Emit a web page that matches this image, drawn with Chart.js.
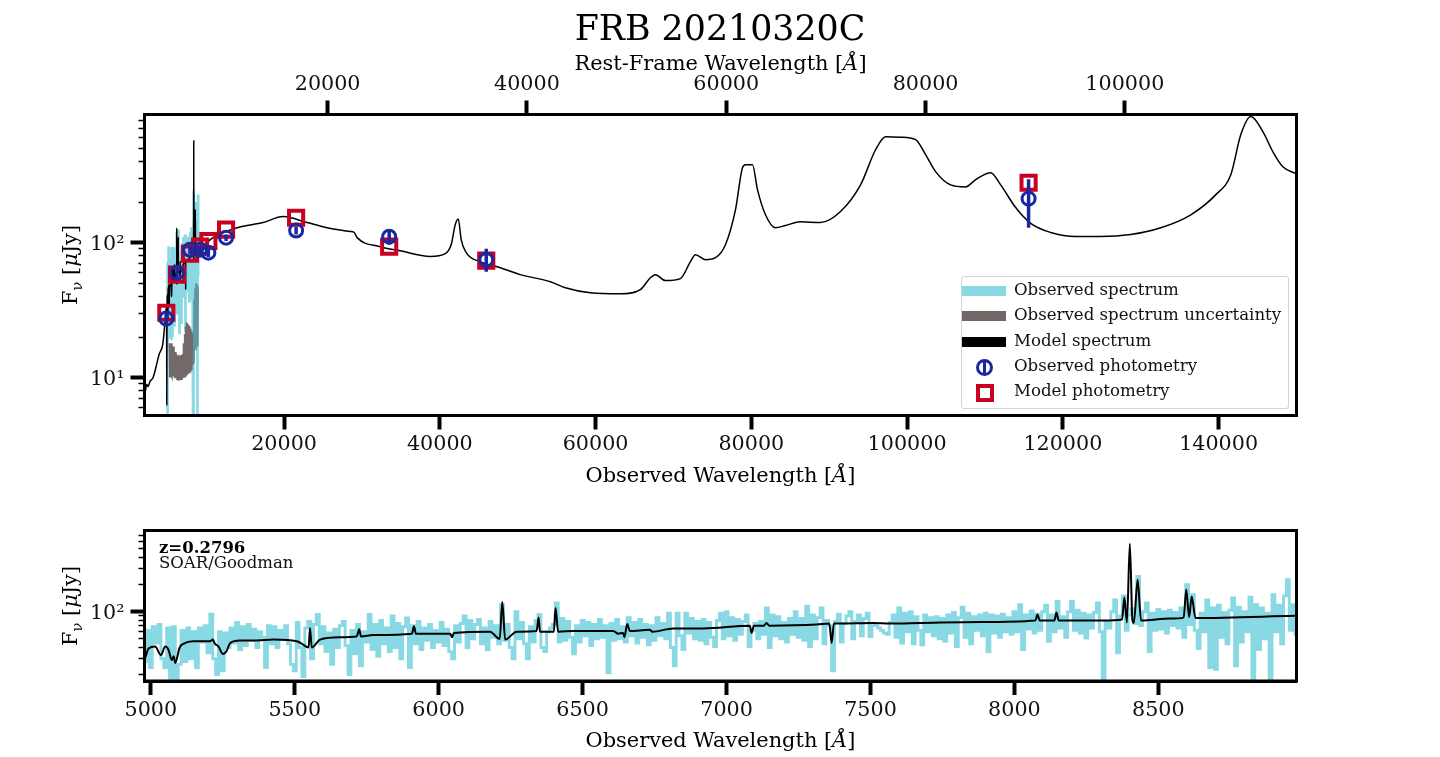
<!DOCTYPE html>
<html>
<head>
<meta charset="utf-8">
<title>FRB 20210320C</title>
<script src="https://cdn.jsdelivr.net/npm/chart.js@4/dist/chart.umd.js"></script>
<style>
    html, body { margin: 0; padding: 0; background: #fff; }
    body { width: 1440px; height: 757px; position: relative; overflow: hidden; font-family: "DejaVu Serif", serif; color: #000; }
    canvas { position: absolute; left: 0; }
    .label { position: absolute; white-space: nowrap; transform: translate(-50%, -50%); line-height: 1; }
    .label.vertical { transform: translate(-50%, -50%) rotate(-90deg); }
    .label sub { font-size: 70%; line-height: 0; }
    #legend { position: absolute; left: 961px; top: 276px; width: 326px; height: 131px; border: 1px solid #d4d4d4; border-radius: 3px; background: rgba(255, 255, 255, 0.85); font-size: 16.6px; color: #111; }
    #legend .row { position: absolute; left: 0; height: 20px; line-height: 20px; white-space: nowrap; }
    #legend .name { position: absolute; left: 52px; top: -1px; }
    #legend .swatch { position: absolute; left: 0; top: 5px; width: 44px; height: 10px; }
    #legend .circle { position: absolute; left: 14px; top: 2px; width: 11px; height: 11px; border: 3px solid #1a27a3; border-radius: 50%; }
    #legend .circle i { position: absolute; left: 4px; top: -2px; width: 3px; height: 15px; background: #1a27a3; }
    #legend .square { position: absolute; left: 14px; top: 2px; width: 10px; height: 10px; border: 4px solid #c80021; }
</style>
</head>
<body>
<canvas id="sedChart" width="1440" height="500" style="top:0;width:1440px;height:500px"></canvas>
<canvas id="specChart" width="1440" height="257" style="top:500px;width:1440px;height:257px"></canvas>

<div class="label" style="left:720px;top:28px;font-size:34.8px">FRB 20210320C</div>
<div class="label" style="left:720.5px;top:63px;font-size:20.9px">Rest-Frame Wavelength [<i>Å</i>]</div>
<div class="label" style="left:720.5px;top:475px;font-size:20.9px">Observed Wavelength [<i>Å</i>]</div>
<div class="label" style="left:720.5px;top:740px;font-size:20.9px">Observed Wavelength [<i>Å</i>]</div>
<div class="label vertical" style="left:70px;top:265px;font-size:20.9px">F<sub>ν</sub> [<i>μ</i>Jy]</div>
<div class="label vertical" style="left:70px;top:606px;font-size:20.9px">F<sub>ν</sub> [<i>μ</i>Jy]</div>
<div class="label" style="left:159px;top:548px;font-size:16.5px;font-weight:bold;transform:translate(0,-50%)">z=0.2796</div>
<div class="label" style="left:159px;top:563px;font-size:16.5px;transform:translate(0,-50%);color:#111">SOAR/Goodman</div>
<div id="legend"></div>

<script>
const redshift = 1.2796

// axis limits and ticks
const sedWaveMin = 2077
const sedWaveMax = 150000
const sedFluxMin = 5.25
const sedFluxMax = 890
const specWaveMin = 4978
const specWaveMax = 8980
const specFluxMin = 17
const specFluxMax = 798
const sedWaveTicks = [20000, 40000, 60000, 80000, 100000, 120000, 140000]
const restWaveTicks = [20000, 40000, 60000, 80000, 100000]
const specWaveTicks = [5000, 5500, 6000, 6500, 7000, 7500, 8000, 8500]
const sedFluxTicks = [10, 100]
const sedFluxMinorTicks = [6, 7, 8, 9, 20, 30, 40, 50, 60, 70, 80, 90, 200, 300, 400, 500, 600, 700, 800]
const specFluxTicks = [100]
const specFluxMinorTicks = [20, 30, 40, 50, 60, 70, 80, 90, 200, 300, 400, 500, 600, 700]
const fluxTickLabels = {10: '10¹', 100: '10²'}

// observed spectrum
const obsWave = [
    4980, 4990, 5000, 5010, 5020, 5030, 5040, 5050, 5060, 5070,
    5080, 5090, 5100, 5110, 5120, 5130, 5140, 5150, 5160, 5170,
    5180, 5190, 5200, 5210, 5220, 5230, 5240, 5250, 5260, 5270,
    5280, 5290, 5300, 5310, 5320, 5330, 5340, 5350, 5360, 5370,
    5380, 5390, 5400, 5410, 5420, 5430, 5440, 5450, 5460, 5470,
    5480, 5490, 5500, 5510, 5520, 5530, 5540, 5550, 5560, 5570,
    5580, 5590, 5600, 5610, 5620, 5630, 5640, 5650, 5660, 5670,
    5680, 5690, 5700, 5710, 5720, 5730, 5740, 5750, 5760, 5770,
    5780, 5790, 5800, 5810, 5820, 5830, 5840, 5850, 5860, 5870,
    5880, 5890, 5900, 5910, 5920, 5930, 5940, 5950, 5960, 5970,
    5980, 5990, 6000, 6010, 6020, 6030, 6040, 6050, 6060, 6070,
    6080, 6090, 6100, 6110, 6120, 6130, 6140, 6150, 6160, 6170,
    6180, 6190, 6200, 6210, 6220, 6230, 6240, 6250, 6260, 6270,
    6280, 6290, 6300, 6310, 6320, 6330, 6340, 6350, 6360, 6370,
    6380, 6390, 6400, 6410, 6420, 6430, 6440, 6450, 6460, 6470,
    6480, 6490, 6500, 6510, 6520, 6530, 6540, 6550, 6560, 6570,
    6580, 6590, 6600, 6610, 6620, 6630, 6640, 6650, 6660, 6670,
    6680, 6690, 6700, 6710, 6720, 6730, 6740, 6750, 6760, 6770,
    6780, 6790, 6800, 6810, 6820, 6830, 6840, 6850, 6860, 6870,
    6880, 6890, 6900, 6910, 6920, 6930, 6940, 6950, 6960, 6970,
    6980, 6990, 7000, 7010, 7020, 7030, 7040, 7050, 7060, 7070,
    7080, 7090, 7100, 7110, 7120, 7130, 7140, 7150, 7160, 7170,
    7180, 7190, 7200, 7210, 7220, 7230, 7240, 7250, 7260, 7270,
    7280, 7290, 7300, 7310, 7320, 7330, 7340, 7350, 7360, 7370,
    7380, 7390, 7400, 7410, 7420, 7430, 7440, 7450, 7460, 7470,
    7480, 7490, 7500, 7510, 7520, 7530, 7540, 7550, 7560, 7570,
    7580, 7590, 7600, 7610, 7620, 7630, 7640, 7650, 7660, 7670,
    7680, 7690, 7700, 7710, 7720, 7730, 7740, 7750, 7760, 7770,
    7780, 7790, 7800, 7810, 7820, 7830, 7840, 7850, 7860, 7870,
    7880, 7890, 7900, 7910, 7920, 7930, 7940, 7950, 7960, 7970,
    7980, 7990, 8000, 8010, 8020, 8030, 8040, 8050, 8060, 8070,
    8080, 8090, 8100, 8110, 8120, 8130, 8140, 8150, 8160, 8170,
    8180, 8190, 8200, 8210, 8220, 8230, 8240, 8250, 8260, 8270,
    8280, 8290, 8300, 8310, 8320, 8330, 8340, 8350, 8360, 8370,
    8380, 8390, 8400, 8410, 8420, 8430, 8440, 8450, 8460, 8470,
    8480, 8490, 8500, 8510, 8520, 8530, 8540, 8550, 8560, 8570,
    8580, 8590, 8600, 8610, 8620, 8630, 8640, 8650, 8660, 8670,
    8680, 8690, 8700, 8710, 8720, 8730, 8740, 8750, 8760, 8770,
    8780, 8790, 8800, 8810, 8820, 8830, 8840, 8850, 8860, 8870,
    8880, 8890, 8900, 8910, 8920, 8930, 8940, 8950, 8960, 8970,
    8980
]
const obsFlux = [
    28, 62, 24, 68, 45, 72, 30, 24, 66, 5,
    68, 18, 26, 62, 28, 66, 30, 60, 24, 66,
    46, 70, 35, 94, 30, 20, 60, 22, 58, 40,
    66, 45, 76, 38, 68, 42, 72, 48, 64, 40,
    60, 52, 24, 70, 44, 68, 40, 62, 50, 70,
    44, 26, 22, 76, 40, 19, 66, 78, 30, 72,
    93, 44, 68, 36, 58, 26, 64, 40, 70, 78,
    42, 20, 62, 34, 72, 25, 60, 46, 93, 38,
    72, 32, 80, 44, 66, 36, 90, 40, 74, 30,
    68, 85, 24, 70, 44, 78, 38, 66, 48, 72,
    40, 62, 46, 76, 42, 64, 36, 30, 70, 46,
    74, 90, 40, 80, 50, 72, 82, 44, 66, 38,
    78, 52, 70, 44, 120, 48, 72, 40, 30, 100,
    50, 76, 44, 30, 68, 46, 80, 93, 40, 36,
    60, 66, 72, 125, 46, 84, 48, 78, 52, 34,
    70, 46, 80, 54, 76, 42, 72, 50, 82, 52,
    70, 21, 74, 48, 82, 50, 68, 46, 86, 54,
    76, 45, 82, 52, 72, 43, 70, 48, 86, 54,
    74, 50, 96, 40, 25, 96, 54, 38, 96, 58,
    84, 50, 78, 48, 82, 44, 76, 52, 41, 80,
    96, 50, 100, 54, 86, 48, 82, 56, 78, 92,
    41, 62, 74, 50, 78, 56, 110, 40, 92, 54,
    88, 50, 76, 46, 84, 56, 100, 52, 84, 48,
    115, 41, 92, 50, 86, 110, 44, 80, 70, 22,
    78, 94, 46, 74, 90, 100, 50, 78, 92, 54,
    84, 96, 53, 74, 70, 66, 62, 58, 56, 76,
    92, 52, 110, 45, 96, 60, 100, 44, 88, 62,
    43, 92, 60, 86, 54, 88, 50, 84, 47, 92,
    58, 98, 41, 86, 112, 52, 96, 44, 88, 62,
    92, 54, 96, 36, 92, 58, 90, 52, 94, 60,
    86, 56, 100, 60, 120, 38, 92, 64, 102, 58,
    94, 62, 100, 118, 47, 92, 60, 130, 66, 88,
    52, 100, 130, 62, 104, 58, 96, 51, 92, 66,
    98, 125, 60, 5, 78, 66, 100, 135, 35, 90,
    150, 62, 92, 108, 74, 247, 70, 100, 125, 36,
    96, 62, 106, 64, 100, 58, 104, 70, 98, 66,
    110, 52, 200, 72, 155, 62, 39, 96, 60, 135,
    24, 110, 23, 118, 52, 98, 44, 104, 142, 25,
    112, 46, 100, 60, 145, 5, 120, 38, 110, 50,
    96, 5, 155, 60, 118, 44, 150, 227, 62, 120,
    56
]

// uncertainty on the observed spectrum
const errWave = [
    5300, 5354, 5420, 5480, 5540, 5600, 5660, 5720, 5780, 5840,
    5900, 5960, 6020, 6080, 6140, 6210, 6270, 6330, 6390, 6450,
    6510, 6570, 6640, 6700, 6760, 6820, 6880, 6940, 7024, 7080,
    7140, 7200, 7260, 7320, 7380, 7440, 7497, 7560, 7620, 7680,
    7740, 7800, 7860, 7923, 7990, 8050, 8110, 8170, 8230, 8290,
    8350, 8410, 8470, 8530, 8590, 8650, 8710, 8780, 8840, 8900, 8950
]
const errFlux = [
    18, 10.2, 17, 10.5, 18, 10.2, 17, 10.3, 17, 10.2,
    15, 10, 15.5, 9.9, 15, 15, 9.8, 14.6, 9.7, 14.5,
    9.7, 14.4, 14.3, 9.7, 14.6, 9.8, 14.8, 9.9, 15, 10,
    18, 10.2, 21, 10.4, 24, 10.6, 25.6, 10.8, 25, 11,
    24.5, 11, 24, 11.2, 23, 11.6, 22, 12, 21, 12.5,
    19, 13, 38, 16, 46, 16, 50, 17, 48, 17, 45
]

// model spectrum: blue end, the part shared with the lower panel, red end
const modelWaveBlue = [2077, 2141, 2360, 2527, 2784, 3169, 3555, 3940, 4416, 4583, 4840, 4920, 4935, 4960]
const modelFluxBlue = [7.6, 7.7, 8.9, 8.6, 9.4, 10, 12, 14.8, 17.6, 21.5, 32, 33, 6.3, 30]
const modelWave = [
    4981, 4992, 5015, 5035, 5050, 5061, 5073, 5079, 5085, 5100,
    5113, 5148, 5206, 5215, 5223, 5235, 5250, 5262, 5276, 5310,
    5368, 5426, 5507, 5525, 5548, 5553, 5559, 5588, 5657, 5715,
    5724, 5730, 5773, 5907, 5914, 5921, 6040, 6046, 6053, 6178,
    6212, 6221, 6231, 6271, 6340, 6347, 6352, 6400, 6406, 6415,
    6468, 6606, 6624, 6641, 6645, 6655, 6664, 6733, 6742, 6815,
    6919, 7081, 7087, 7095, 7130, 7139, 7148, 7313, 7357, 7365,
    7373, 7394, 7507, 7568, 7673, 7882, 8073, 8080, 8088, 8139,
    8146, 8154, 8310, 8374, 8382, 8391, 8401, 8410, 8415, 8428,
    8440, 8542, 8588, 8597, 8607, 8616, 8629, 8976
]
const modelFlux = [
    31, 39, 41, 33, 41, 38, 29, 32, 27, 40,
    44, 47, 47, 49, 44, 41, 34, 36, 45, 48,
    48, 49, 47, 44, 40, 66, 40, 49, 52, 53,
    64, 53, 55, 57, 69, 57, 57, 52, 58, 60,
    50, 128, 49, 60, 61, 86, 60, 60, 110, 60,
    61, 61, 57, 58, 52, 73, 61, 63, 60, 65,
    65, 70, 58, 70, 70, 75, 70, 72, 74, 45,
    74, 74, 75, 74, 75, 77, 80, 93, 80, 80,
    98, 80, 80, 82, 144, 76, 570, 80, 75, 227,
    80, 84, 86, 176, 87, 148, 85, 90
]
const modelWaveRed = [
    9594, 10879, 13963, 17304, 19874, 22958, 25528, 28485, 29000, 29383,
    32339, 34909, 38764, 40692, 41463, 41977, 42363, 42749, 43391, 45190,
    47760, 50330, 54185, 56113, 59326, 63181, 65751, 67036, 67679, 68964,
    70891, 72176, 72819, 74104, 75389, 76674, 77959, 78858, 79244, 80143,
    80786, 81814, 83099, 84384, 86311, 88881, 91451, 94021, 95949, 97234,
    99161, 101089, 102374, 103659, 105586, 107514, 108799, 110726, 112011, 113939,
    115867, 118437, 121650, 124862, 128717, 132572, 136427, 139640, 141567, 142852,
    144137, 145679, 146964, 148249, 150000
]
const modelFluxRed = [
    95, 109, 129, 141, 156, 141, 129, 121, 119, 109,
    93.4, 87, 79, 83, 97, 136, 150, 105, 84.3, 72.3,
    65.3, 58, 51.4, 46.4, 42.6, 41.9, 45, 55, 58, 52.4,
    54.2, 72.3, 81.5, 74.8, 77.4, 96.6, 175, 359, 378, 378,
    247, 161, 129, 134, 143, 141, 170, 268, 488, 610,
    605, 580, 449, 336, 268, 259, 293, 330, 268, 182,
    139, 119, 111, 111, 115, 129, 161, 227, 319, 632,
    859, 664, 472, 365, 324
]

// photometry
const photWave = [4880, 6253, 7924, 9209, 10280, 12550, 21545, 33495, 45960, 115600]
const obsPhotFlux = [27.4, 60, 88.7, 88.7, 84.3, 109, 123, 110.8, 74.8, 212]
const obsPhotLow = [25, 55, 82, 82, 78, 103, 115, 96.6, 61, 129]
const obsPhotHigh = [30, 65, 95, 95, 91, 115, 131, 126, 90, 295]
const modelPhotFlux = [30.3, 58, 82.9, 93.4, 103, 125, 153, 93.4, 73.6, 278]

// legend
const legendNames = ['Observed spectrum', 'Observed spectrum uncertainty', 'Model spectrum', 'Observed photometry', 'Model photometry']
const legendKinds = ['#88d9e3', '#6f6867', '#000000', 'circle', 'square']
const legendTops = [4, 29, 55, 80, 105]

const SERIF = '"DejaVu Serif", serif'
const OBS_COLOR = '#88d9e3'
const ERR_COLOR = 'rgb(113, 106, 105)'
const ERR_OVERLAP_COLOR = 'rgb(94, 150, 162)'
const ERR_OVERLAP_START = 8400
const BLUE = '#1a27a3'
const RED = '#c80021'

function toPoints(xs, ys) {
    return xs.map((x, i) => ({x: x, y: ys[i]}))
}

// error bars are one line with a gap after every point
function errorBarPoints() {
    const points = []
    photWave.forEach((wave, i) => {
        points.push({x: wave, y: obsPhotLow[i]}, {x: wave, y: obsPhotHigh[i]}, {x: wave, y: null})
    })
    return points
}

function setTicks(values) {
    return (scale) => {
        scale.ticks = values.map((value) => ({value: value}))
    }
}

function xAxis({min, max, ticks, position, fixedHeight}) {
    return {
        type: 'linear',
        axis: 'x',
        position: position,
        min: min,
        max: max,
        afterBuildTicks: setTicks(ticks),
        afterFit: (scale) => {
            scale.height = fixedHeight
        },
        border: {display: true, color: '#000', width: 3},
        grid: {drawOnChartArea: false, drawTicks: true, tickLength: 14, tickWidth: 4, tickColor: '#000'},
        ticks: {
            autoSkip: false,
            maxRotation: 0,
            minRotation: 0,
            padding: 3,
            color: '#111',
            font: {family: SERIF, size: 20.7},
            callback: (value) => String(value)
        }
    }
}

function yAxes({min, max, ticks, minorTicks}) {
    return {
        y: {
            type: 'logarithmic',
            position: 'left',
            weight: 1,
            min: min,
            max: max,
            afterBuildTicks: setTicks(ticks),
            afterFit: (scale) => {
                scale.width = 144.5
            },
            border: {display: true, color: '#000', width: 3},
            grid: {drawOnChartArea: false, drawTicks: true, tickLength: 14, tickWidth: 4, tickColor: '#000'},
            ticks: {
                autoSkip: false,
                padding: 6,
                labelOffset: 1.5,
                color: '#111',
                font: {family: SERIF, size: 20.7},
                callback: (value) => fluxTickLabels[value]
            }
        },
        yMinor: {
            type: 'logarithmic',
            axis: 'y',
            position: 'left',
            weight: 0,
            min: min,
            max: max,
            afterBuildTicks: setTicks(minorTicks),
            afterFit: (scale) => {
                scale.width = 0
            },
            border: {display: false},
            grid: {drawOnChartArea: false, drawTicks: true, tickLength: 6, tickWidth: 1.5, tickColor: '#000'},
            ticks: {display: false, autoSkip: false}
        }
    }
}

const framePlugin = {
    id: 'frame',
    afterDraw(chart) {
        const {ctx, chartArea} = chart
        ctx.save()
        ctx.strokeStyle = '#000'
        ctx.lineWidth = 3
        ctx.strokeRect(chartArea.left, chartArea.top, chartArea.right - chartArea.left, chartArea.bottom - chartArea.top)
        ctx.restore()
    }
}

function baseOptions(padding) {
    return {
        responsive: false,
        animation: false,
        devicePixelRatio: 1,
        layout: {padding: padding},
        elements: {point: {radius: 0}, line: {tension: 0}},
        plugins: {legend: {display: false}, title: {display: false}, tooltip: {enabled: false}}
    }
}

new Chart(document.getElementById('sedChart'), {
    type: 'line',
    data: {
        datasets: [
            {
                label: 'Observed photometry',
                data: toPoints(photWave, obsPhotFlux),
                showLine: false,
                pointStyle: 'circle',
                pointRadius: 6.5,
                pointBorderWidth: 3,
                pointBorderColor: BLUE,
                pointBackgroundColor: 'transparent',
                order: 0
            },
            {
                label: 'Observed photometry error',
                data: errorBarPoints(),
                borderColor: BLUE,
                borderWidth: 3.5,
                spanGaps: false,
                order: 0
            },
            {
                label: 'Model photometry',
                data: toPoints(photWave, modelPhotFlux),
                showLine: false,
                pointStyle: 'rect',
                pointRadius: 10,
                pointBorderWidth: 4,
                pointBorderColor: RED,
                pointBackgroundColor: 'transparent',
                order: 1
            },
            {
                label: 'Model spectrum',
                data: toPoints([...modelWaveBlue, ...modelWave, ...modelWaveRed], [...modelFluxBlue, ...modelFlux, ...modelFluxRed]),
                borderColor: '#000',
                borderWidth: 1.5,
                cubicInterpolationMode: 'monotone',
                order: 2
            },
            {
                label: 'Observed spectrum uncertainty',
                data: toPoints(errWave, errFlux),
                borderColor: ERR_COLOR,
                borderWidth: 2,
                segment: {
                    borderColor: (ctx) => ctx.p0.parsed.x > ERR_OVERLAP_START ? ERR_OVERLAP_COLOR : ERR_COLOR
                },
                order: 3
            },
            {
                label: 'Observed spectrum',
                data: toPoints(obsWave, obsFlux),
                borderColor: OBS_COLOR,
                borderWidth: 2.6,
                order: 4
            }
        ]
    },
    options: {
        ...baseOptions({left: 0, right: 143.5, top: 0, bottom: 0}),
        scales: {
            x: xAxis({min: sedWaveMin, max: sedWaveMax, ticks: sedWaveTicks, position: 'bottom', fixedHeight: 84.5}),
            x2: xAxis({min: sedWaveMin / redshift, max: sedWaveMax / redshift, ticks: restWaveTicks, position: 'top', fixedHeight: 114.5}),
            ...yAxes({min: sedFluxMin, max: sedFluxMax, ticks: sedFluxTicks, minorTicks: sedFluxMinorTicks})
        }
    },
    plugins: [framePlugin]
})

new Chart(document.getElementById('specChart'), {
    type: 'line',
    data: {
        datasets: [
            {
                label: 'Model spectrum',
                data: toPoints(modelWave, modelFlux),
                borderColor: '#000',
                borderWidth: 2,
                cubicInterpolationMode: 'monotone',
                order: 0
            },
            {
                label: 'Observed spectrum',
                data: toPoints(obsWave, obsFlux),
                borderColor: OBS_COLOR,
                borderWidth: 2.9,
                stepped: 'middle',
                order: 1
            }
        ]
    },
    options: {
        ...baseOptions({left: 0, right: 143.5, top: 30.5, bottom: 0}),
        scales: {
            x: xAxis({min: specWaveMin, max: specWaveMax, ticks: specWaveTicks, position: 'bottom', fixedHeight: 76}),
            ...yAxes({min: specFluxMin, max: specFluxMax, ticks: specFluxTicks, minorTicks: specFluxMinorTicks})
        }
    },
    plugins: [framePlugin]
})

const legend = document.getElementById('legend')
legendNames.forEach((name, i) => {
    const kind = legendKinds[i]
    let mark
    if (kind === 'circle') {
        mark = '<span class="circle"><i></i></span>'
    } else if (kind === 'square') {
        mark = '<span class="square"></span>'
    } else {
        mark = `<span class="swatch" style="background:${kind}"></span>`
    }
    legend.insertAdjacentHTML('beforeend', `<div class="row" style="top:${legendTops[i]}px">${mark}<span class="name">${name}</span></div>`)
})
</script>
</body>
</html>
